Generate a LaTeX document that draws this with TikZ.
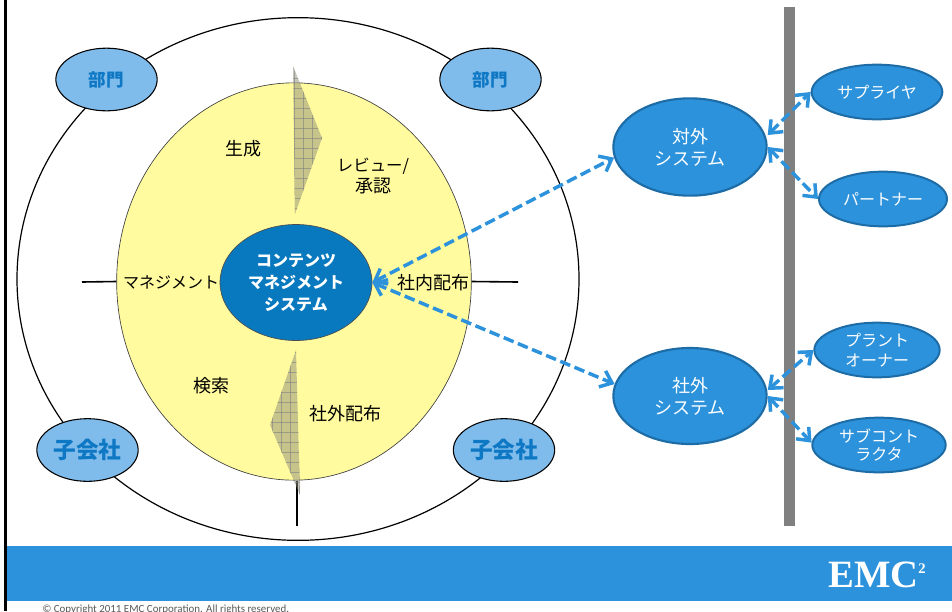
\documentclass[tikz,border=0pt]{standalone}
\usepackage{fontspec}
\setmainfont{Noto Sans CJK JP}
\newfontfamily\logofont{Liberation Serif}
\newfontfamily\copyfont{Carlito}
\usetikzlibrary{arrows.meta,shapes.geometric}
\definecolor{bandblue}{HTML}{2C92DC}
\definecolor{edgeblue}{HTML}{1D6CA6}
\definecolor{corefill}{HTML}{0979BF}
\definecolor{lightblue}{HTML}{7FBCEB}
\definecolor{paleyellow}{HTML}{FFFB9E}
\definecolor{lbltext}{HTML}{0F78C4}
\tikzset{
  x=0.75pt,y=-0.75pt,
  lbl/.style={align=center,inner sep=0pt,text=black,font=\fontsize{13.5pt}{16pt}\selectfont},
  sysnode/.style={ellipse,draw=edgeblue,line width=1.6pt,fill=bandblue,text=white,align=center,inner sep=0pt,font=\fontsize{13.5pt}{16.5pt}\selectfont},
  partner/.style={ellipse,draw=edgeblue,line width=1.5pt,fill=bandblue,text=white,align=center,inner sep=0pt,font=\fontsize{12pt}{15pt}\selectfont},
  unitnode/.style={ellipse,draw=black,line width=0.8pt,fill=lightblue,text=lbltext,inner sep=0pt,minimum width=76pt,minimum height=47pt,font=\bfseries\fontsize{13.2pt}{15pt}\selectfont},
  bigunit/.style={unitnode,font=\bfseries\fontsize{17pt}{18pt}\selectfont},
  link/.style={draw=bandblue,line width=2.6pt,dash pattern=on 8pt off 3.5pt,{Straight Barb[length=8pt,width=13pt,line width=2.6pt]}-{Straight Barb[length=8pt,width=13pt,line width=2.6pt]}},
  tick/.style={draw=black,line width=1.2pt},
  wedge/.style={fill=gray!85!olive,fill opacity=0.5,draw=none},
  gridline/.style={draw=gray,draw opacity=0.6,line width=0.35pt},
}
\begin{document}
\begin{tikzpicture}
\useasboundingbox (0,0) rectangle (952,611);
\fill[white] (0,0) rectangle (952,611);
% frame and footer
\draw[black,line width=1.6pt] (5.5,0) -- (5.5,611);
\fill[bandblue] (7,546) rectangle (952,601);
\node[anchor=base west,inner sep=0pt,text=black!65,font=\copyfont\fontsize{8.2pt}{9pt}\selectfont] (copy) at (42,612) {© Copyright 2011 EMC Corporation. All rights reserved.};
\node[anchor=base,inner sep=0pt,text=white,font=\logofont\bfseries\fontsize{29pt}{29pt}\selectfont] (logo) at (877,587) {EMC\raisebox{10pt}{\fontsize{11pt}{11pt}\selectfont 2}};
% outer circle
\node[ellipse,draw=black,line width=0.9pt,minimum width=421.5pt,minimum height=392pt,inner sep=0pt] (outer) at (298,279) {};
% ticks
\coordinate (tl) at (82,282);
\coordinate (tr) at (518,282);
\coordinate (tb) at (297,526);
% yellow ellipse
\node[ellipse,draw=black!75,line width=0.5pt,fill=paleyellow,minimum width=266pt,minimum height=298pt,inner sep=0pt] (core) at (294,281.5) {};
\draw[tick] (tl) -- (core.west);
\draw[tick] (tr) -- (core.east);
\draw[tick] (tb) -- (tb |- core.south);
% wedges
\begin{scope}
\clip (293,66) -- (322,138) -- (295,214) -- cycle;
\fill[wedge] (270,60) rectangle (330,220);
\foreach \gx in {294,303,312,321} \draw[gridline] (\gx,60) -- (\gx,220);
\foreach \gy in {68,78,...,218} \draw[gridline] (285,\gy) -- (330,\gy);
\end{scope}
\begin{scope}
\clip (296,350) -- (270,425) -- (300,495) -- cycle;
\fill[wedge] (265,345) rectangle (305,500);
\foreach \gx in {272,281,290,299} \draw[gridline] (\gx,345) -- (\gx,500);
\foreach \gy in {352,362,...,492} \draw[gridline] (265,\gy) -- (305,\gy);
\end{scope}
% centre
\node[ellipse,draw=black!70,line width=0.5pt,fill=corefill,minimum width=114pt,minimum height=87pt,inner sep=0pt,text=white,align=center,font=\bfseries\fontsize{12pt}{16.5pt}\selectfont] (cms) at (296,282.5) {コンテンツ\\マネジメント\\システム};
% cycle labels
\node[lbl] (gen) at (243,149) {生成};
\node[lbl,align=center] (rev) at (373,176) {{\fontsize{12.3pt}{16pt}\selectfont レビュー/}\\承認};
\node[lbl,font=\fontsize{12pt}{14pt}\selectfont] (mgt) at (171,282) {マネジメント};
\node[lbl] (inner) at (433,283) {社内配布};
\node[lbl] (find) at (211,386) {検索};
\node[lbl] (ext) at (345,414) {社外配布};
% units
\node[unitnode] (u1) at (106.5,79.5) {部門};
\node[unitnode] (u2) at (490.5,79.5) {部門};
\node[bigunit] (u3) at (87.5,450) {子会社};
\node[bigunit] (u4) at (504,450) {子会社};
% pole
\fill[gray] (784,7) rectangle (795,526);
% systems
\node[sysnode,minimum width=115pt,minimum height=73pt] (s1) at (690,147) {対外\\システム};
\node[sysnode,minimum width=115pt,minimum height=72pt] (s2) at (690,396) {社外\\システム};
\node[partner,minimum width=98pt,minimum height=41pt] (p1) at (877,92) {サプライヤ};
\node[partner,minimum width=96pt,minimum height=41pt] (p2) at (883,199) {パートナー};
\node[partner,minimum width=94pt,minimum height=41pt] (p3) at (877,350) {プラント\\オーナー};
\node[partner,minimum width=100pt,minimum height=41pt,font=\fontsize{12pt}{13.5pt}\selectfont] (p4) at (879,445) {サブコント\\ラクタ};
% links
\draw[link] (cms.east) -- (s1.188);
\draw[link] (cms.east) -- (s2.171);
\draw[link] ([yshift=9pt]s1.east) -- (p1.west);
\draw[link] (s1.east) -- (p2.west);
\draw[link] ([yshift=4.5pt]s2.east) -- (p3.west);
\draw[link] (s2.east) -- (p4.178);
\end{tikzpicture}
\end{document}
